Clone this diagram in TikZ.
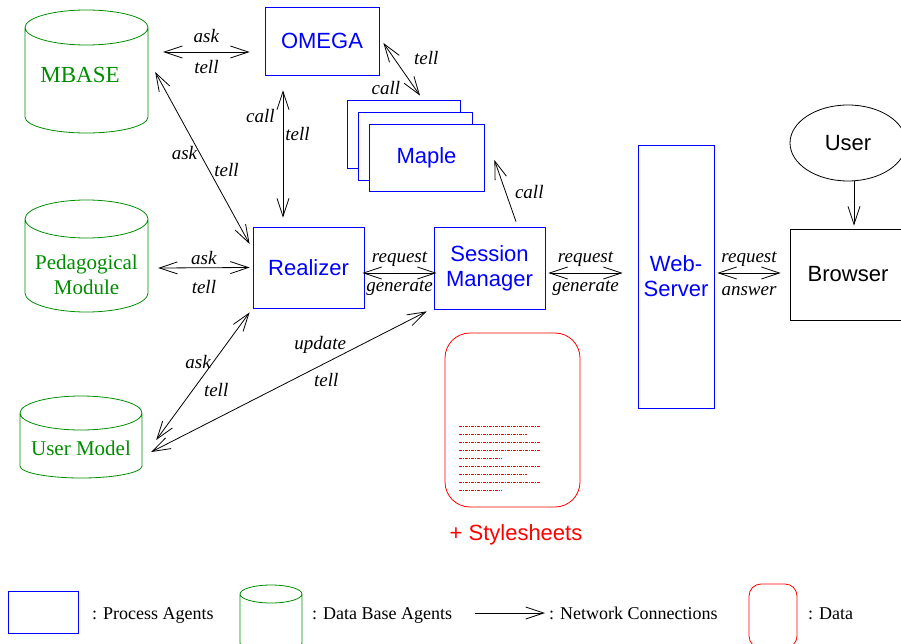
\documentclass[tikz,border=0pt]{standalone}
\usepackage{fontspec}
\setmainfont{Liberation Serif}
\setsansfont{Liberation Sans}
\usetikzlibrary{arrows.meta,shapes.geometric,positioning,calc}

\definecolor{agentblue}{RGB}{0,0,255}
\definecolor{dbgreen}{RGB}{0,140,0}
\definecolor{datared}{RGB}{255,0,0}

\tikzset{
  agent/.style={rectangle,draw=agentblue,text=agentblue,line width=0.8pt,
    font=\sffamily\fontsize{22}{25}\selectfont,align=center},
  plainbox/.style={draw=black,line width=0.8pt,font=\sffamily\fontsize{22}{25}\selectfont},
  dbase/.style={text=dbgreen,font=\fontsize{21}{25}\selectfont,align=center,minimum width=123pt},
  lbl/.style={font=\itshape\fontsize{19}{21}\selectfont,text=black,inner sep=2pt},
  net/.style={<->,>={Straight Barb[length=18pt,width=12pt]},line width=0.8pt},
  legendtxt/.style={font=\fontsize{18}{20}\selectfont,anchor=base west,inner sep=0pt},
}
% cylinder: cx, top, top radius, bottom, bottom radius, half width
\newcommand{\dbcyl}[6]{%
  \draw[dbgreen,line width=0.8pt] (#1,-#2-#3) ellipse [x radius=#6, y radius=#3]
    (#1-#6,-#2-#3) -- (#1-#6,-#4+#5)
    arc[start angle=180,end angle=360,x radius=#6,y radius=#5] -- (#1+#6,-#2-#3);}

\begin{document}
\begin{tikzpicture}[x=1pt,y=1pt]
  \useasboundingbox (0,0) rectangle (901,-644);
  \clip (0,0) rectangle (901,-644);

  % data bases
  \dbcyl{86.5}{10}{17.5}{133}{16}{61.5}
  \dbcyl{86.5}{200}{19}{312}{19}{61.5}
  \dbcyl{81}{396}{17}{478}{12}{61}
  \node[dbase,font=\fontsize{23}{25}\selectfont] (mbase) at (80,-75) {MBASE};
  \node[dbase] (ped) at (86.5,-275) {Pedagogical\\Module};
  \node[dbase,minimum width=122pt] (umodel) at (81,-448) {User Model};

  % process agents
  \begin{scope}[every node/.append style={agent}]
    \node[minimum width=114pt,minimum height=68pt] (omega) at (322,-41) {OMEGA};
    \node[minimum width=113pt,minimum height=68pt,fill=white] (maple3) at (403.5,-134) {};
    \node[minimum width=114pt,minimum height=68pt,fill=white] (maple2) at (415,-146) {};
    \node[minimum width=115pt,minimum height=67pt,fill=white] (maple) at (426.5,-157.5) {Maple};
    \node[minimum width=111pt,minimum height=81pt] (realizer) at (308.5,-267.5) {Realizer};
    \node[minimum width=111pt,minimum height=82pt] (session) at (489.5,-268) {Session\\Manager};
    \node[minimum width=76pt,minimum height=263pt] (web) at (676,-276.5) {Web-\\Server};
  \end{scope}

  \node[plainbox,ellipse,minimum width=116pt,minimum height=76pt] (user) at (848,-143) {User};
  \node[plainbox,minimum width=116pt,minimum height=91pt] (browser) at (848,-274.5) {Browser};

  % data
  \node[draw=datared,line width=0.8pt,rounded corners=25pt,minimum width=135pt,
    minimum height=174pt] (style) at (512.5,-420) {};
  \foreach \i/\xe in {0/540,1/527,2/540,3/540,4/502,5/540,6/527,7/540,8/502}
    \draw[datared,line width=0.8pt,dash pattern=on 3pt off 1pt on 1pt off 1pt]
      (459,-426-8.1*\i) -- (\xe,-426-8.1*\i);
  \node[text=datared,font=\sffamily\fontsize{22}{25}\selectfont] (stylename) at (516,-535) {+ Stylesheets};

  % network connections
  \begin{scope}[net]
    \draw ([shift={(21.5,23)}]mbase.east) -- node[lbl,above=7pt]{ask} node[lbl,below=6pt]{tell}
      ([shift={(-15,-11)}]omega.west);
    \draw ([shift={(4,-2)}]omega.east) -- node[lbl,pos=0.28,right=18pt]{tell}
      node[lbl,pos=0.85,left=12pt]{call} ([shift={(16.5,4)}]maple3.north);
    \draw ([shift={(-39,-15)}]omega.south) -- node[lbl,pos=0.2,left=6pt]{call}
      node[lbl,pos=0.34,right]{tell} ([shift={(-25.5,9)}]realizer.north);
    \draw ([shift={(13.5,3)}]mbase.east) -- node[lbl,pos=0.47,left]{ask}
      node[lbl,pos=0.57,right=3pt]{tell} ([shift={(-3,23.5)}]realizer.west);
    \draw ([shift={(10,7)}]ped.east) -- node[lbl,above=1pt]{ask} node[lbl,below=10pt]{tell}
      ([shift={(-3,0)}]realizer.west);
    \draw ([shift={(-2,-5.5)}]realizer.east) -- node[lbl,above=4pt]{request}
      node[lbl,below=5pt]{generate} ([shift={(3,-5)}]session.west);
    \draw[->] ([shift={(26.5,5)}]session.north) -- node[lbl,pos=0.48,right=7pt]{call}
      ([shift={(10,-2.5)}]maple.east);
    \draw ([shift={(3,-5)}]session.east) -- node[lbl,above=4pt]{request}
      node[lbl,below=5pt]{generate} ([shift={(-15,3.5)}]web.west);
    \draw ([shift={(3,3.5)}]web.east) -- node[lbl,above=4pt]{request}
      node[lbl,below=11pt]{answer} ([shift={(-9,1.5)}]browser.west);
    \draw[->] ([shift={(6,0)}]user.south) -- ([shift={(6,3)}]browser.north);
    \draw ([shift={(-3,-4)}]realizer.south west) -- node[lbl,pos=0.39,left]{ask}
      node[lbl,pos=0.61,right=9pt]{tell} ([shift={(14,8)}]umodel.east);
    \draw ([shift={(-7,-2)}]session.south west) -- node[lbl,pos=0.24,left=12pt]{update}
      node[lbl,pos=0.49,right=20pt]{tell} ([shift={(9,-4)}]umodel.east);
  \end{scope}

  % legend
  \node[agent,minimum width=70pt,minimum height=42pt] (lgagent) at (43,-612) {};
  \node[legendtxt] (lgagenttxt) at (92,-619) {: Process Agents};
  \dbcyl{271}{585}{9}{652}{9}{31}
  \node[legendtxt] (lgdbtxt) at (312,-619) {: Data Base Agents};
  \coordinate (lgfrom) at (475,-613);
  \coordinate (lgto) at (545,-613);
  \draw[net,->] (lgfrom) -- (lgto);
  \node[legendtxt] (lgnettxt) at (549,-619) {: Network Connections};
  \node[draw=datared,line width=0.8pt,rounded corners=12pt,minimum width=48pt,
    minimum height=64pt] (lgdata) at (773,-616) {};
  \node[legendtxt] (lgdatatxt) at (808,-619) {: Data};
\end{tikzpicture}
\end{document}
